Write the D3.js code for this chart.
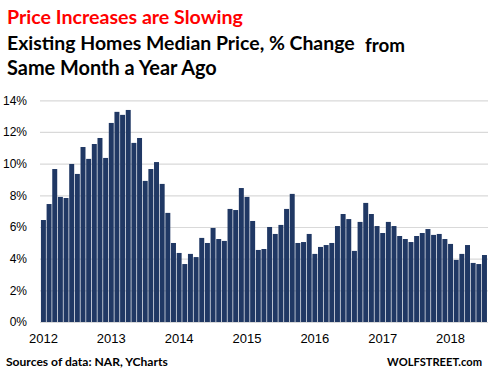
<!DOCTYPE html>
<html>
<head>
<meta charset="utf-8">
<script src="https://cdn.jsdelivr.net/npm/d3@7"></script>
<style>
  body { margin: 0; background: #fff; }
  svg { display: block; }
  text { font-family: Lato, "Liberation Sans", Arial, sans-serif; }
</style>
</head>
<body>
<figure id="bar" style="margin:0"></figure>
<script>
// year-over-year % change, monthly, Jan 2012 .. Jul 2018
const years = [2012, 2013, 2014, 2015, 2016, 2017, 2018];
const monthNames = ["Jan","Feb","Mar","Apr","May","Jun","Jul","Aug","Sep","Oct","Nov","Dec"];
const values = [
  6.44, 7.45, 9.66, 7.90, 7.83, 9.98, 9.35, 11.05, 10.30, 11.24, 11.62, 10.36,
  12.57, 13.27, 13.08, 13.39, 11.31, 11.62, 8.91, 9.66, 10.10, 8.72, 6.89, 4.99,
  4.36, 3.66, 4.30, 4.10, 5.31, 4.99, 5.94, 5.24, 5.12, 7.14, 7.07, 8.46,
  7.90, 6.38, 4.55, 4.61, 6.00, 5.56, 6.13, 7.14, 8.09, 4.99, 5.05, 5.56,
  4.30, 4.74, 4.86, 4.99, 6.06, 6.82, 6.50, 4.49, 6.32, 7.52, 6.82, 6.06,
  5.62, 6.32, 6.06, 5.43, 5.24, 5.05, 5.43, 5.62, 5.87, 5.50, 5.56, 5.24,
  4.93, 3.92, 4.30, 4.86, 3.73, 3.66, 4.23
];
const yTicks = [0, 2, 4, 6, 8, 10, 12, 14];

const categories = [];
years.forEach(yr => monthNames.forEach(m => categories.push(m + " " + yr)));
const months = categories.slice(0, values.length);
const data = months.map((m, i) => ({ month: m, value: values[i] }));

const width = 490, height = 383;
const plotLeft = 40.6, plotRight = 487.3, plotTop = 100.3, plotBottom = 322;

const svg = d3.select("figure#bar")
  .append("svg")
  .attr("width", width)
  .attr("height", height);

// scale the font so the text takes the width it has in the picture
function addText(txt, xPos, yPos, w, color, anchor) {
  const t = svg.append("text")
    .attr("x", xPos).attr("y", yPos)
    .attr("fill", color)
    .attr("text-anchor", anchor || "start")
    .style("font-weight", "bold")
    .style("font-size", "20px")
    .text(txt);
  const len = t.node().getComputedTextLength();
  t.style("font-size", (20 * w / len).toFixed(2) + "px");
  return t;
}

// titles
addText("Price Increases are Slowing", 7, 24, 236, "#ff0000");
addText("Existing Homes Median Price, % Change", 7, 50, 348, "#000");
addText("from", 365, 52, 40, "#000");
addText("Same Month a Year Ago", 7, 75, 210, "#000");

// scales
const x = d3.scaleBand()
  .domain(months)
  .range([plotLeft, plotRight])
  .paddingInner(0.12)
  .paddingOuter(0.06);

const y = d3.scaleLinear()
  .domain([0, 14])
  .range([plotBottom, plotTop]);

// gridlines
const grid = svg.append("g")
  .attr("transform", "translate(40,0)")
  .call(d3.axisLeft(y).tickValues(yTicks).tickSize(-448).tickFormat(""));
grid.select(".domain").remove();
grid.selectAll("line").attr("stroke", "#d9d9d9").attr("stroke-width", 1.2);

// y labels
const yAxis = svg.append("g")
  .attr("transform", "translate(40,0)")
  .call(d3.axisLeft(y).tickValues(yTicks).tickSize(0).tickPadding(13).tickFormat(d => d + "%"));
yAxis.select(".domain").remove();
yAxis.selectAll("text")
  .attr("fill", "#000")
  .style("font-size", "12px")
  .style("font-family", "\"Liberation Sans\", Arial, sans-serif");

// bars
svg.append("g").selectAll("rect")
  .data(data)
  .enter()
  .append("rect")
  .attr("x", d => x(d.month))
  .attr("y", d => y(d.value))
  .attr("width", x.bandwidth())
  .attr("height", d => y(0) - y(d.value))
  .attr("fill", "#203864");

// x axis
const xAxis = svg.append("g")
  .attr("transform", "translate(0," + plotBottom + ")")
  .call(d3.axisBottom(x)
    .tickValues(years.map(yr => "Jan " + yr))
    .tickSize(0)
    .tickPadding(12)
    .tickFormat(d => d.slice(4)));
xAxis.select(".domain").attr("stroke", "#d9d9d9").attr("stroke-width", 1.2)
  .attr("d", "M40,0.5H488");
xAxis.selectAll("text")
  .attr("fill", "#000")
  .style("font-size", "13px")
  .style("font-family", "\"Liberation Sans\", Arial, sans-serif");

// footer
addText("Sources of data: NAR, YCharts", 6, 366, 162, "#000");
addText("WOLFSTREET.com", 482, 366, 95, "#000", "end");
</script>
</body>
</html>
